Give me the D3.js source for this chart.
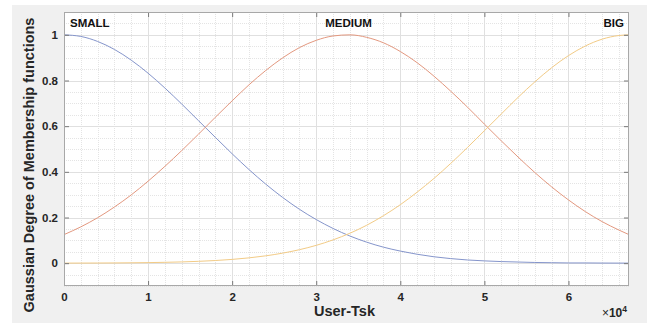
<!DOCTYPE html>
<html><head><meta charset="utf-8">
<script src="https://cdn.jsdelivr.net/npm/d3@7"></script>
<style>html,body{margin:0;padding:0;background:#fff;}svg{display:block;}</style>
</head><body>
<svg id="c" width="647" height="324"></svg>
<script>
// x sample positions (User-Tsk, in units of 1e4)
const xs = [0,0.2,0.4,0.6,0.8,1.0,1.2,1.4,1.6,1.8,2.0,2.2,2.4,2.6,2.8,3.0,3.2,3.4,3.6,3.8,4.0,4.2,4.4,4.6,4.8,5.0,5.2,5.4,5.6,5.8,6.0,6.2,6.4,6.6,6.72];
const small = [1,0.993,0.971,0.936,0.889,0.832,0.767,0.697,0.624,0.551,0.479,0.410,0.346,0.288,0.236,0.191,0.152,0.119,0.092,0.070,0.053,0.039,0.028,0.020,0.014,0.010,0.007,0.005,0.003,0.002,0.001,0.001,0.0005,0.0003,0.0002];
const medium = [0.125,0.159,0.199,0.246,0.299,0.359,0.424,0.493,0.565,0.639,0.711,0.781,0.844,0.899,0.944,0.976,0.995,1.0,0.989,0.965,0.927,0.878,0.819,0.753,0.683,0.609,0.536,0.465,0.397,0.334,0.277,0.226,0.182,0.145,0.125];
const big = [0.0002,0.0004,0.0006,0.001,0.0016,0.0024,0.0037,0.0055,0.008,0.0116,0.0165,0.0232,0.0322,0.0439,0.059,0.078,0.102,0.131,0.166,0.208,0.256,0.311,0.371,0.437,0.507,0.580,0.653,0.726,0.794,0.856,0.909,0.951,0.981,0.997,1.0];
const seriesNames = ["SMALL","MEDIUM","BIG"];
const seriesColors = ["#8595cb","#e3987f","#f2cb86"];
const xTicks = [0,1,2,3,4,5,6];
const yTicks = [0,0.2,0.4,0.6,0.8,1];
const xLabel = "User-Tsk";
const yLabel = "Gaussian Degree of Membership functions";

const svg = d3.select("#c");
const L=64,R=629,T=12,B=286;
svg.append("rect").attr("x",12).attr("y",5).attr("width",635).attr("height",318).attr("fill","#f0f0f0");
svg.append("rect").attr("x",L).attr("y",T).attr("width",R-L).attr("height",B-T).attr("fill","#fff");

const x = d3.scaleLinear().domain([0,6.72]).range([L,R]);
const y = d3.scaleLinear().domain([-0.1,1.1]).range([B,T]);

const g = svg.append("g");
// minor grid
const xMinor = d3.range(0,6.72,0.2).filter(v=>Math.abs(v-Math.round(v))>1e-6);
const yMinor = d3.range(-0.1,1.1,0.05).filter(v=>Math.abs(v*5-Math.round(v*5))>1e-6);
g.selectAll(".xm").data(xMinor).join("line").attr("x1",d=>Math.round(x(d))+0.5).attr("x2",d=>Math.round(x(d))+0.5).attr("y1",T).attr("y2",B)
  .attr("stroke","#e4e4e4").attr("stroke-dasharray","1,1");
g.selectAll(".ym").data(yMinor).join("line").attr("y1",d=>Math.round(y(d))+0.5).attr("y2",d=>Math.round(y(d))+0.5).attr("x1",L).attr("x2",R)
  .attr("stroke","#e4e4e4").attr("stroke-dasharray","1,1");
// major grid
g.selectAll(".xg").data(xTicks).join("line").attr("x1",d=>Math.round(x(d))+0.5).attr("x2",d=>Math.round(x(d))+0.5).attr("y1",T).attr("y2",B)
  .attr("stroke","#e0e0e0");
g.selectAll(".yg").data(yTicks).join("line").attr("y1",d=>Math.round(y(d))+0.5).attr("y2",d=>Math.round(y(d))+0.5).attr("x1",L).attr("x2",R)
  .attr("stroke","#e0e0e0");

// curves
const line = d3.line().x(d=>x(d[0])).y(d=>y(d[1])).curve(d3.curveMonotoneX);
[small,medium,big].forEach((vals,i)=>{
  svg.append("path").datum(xs.map((v,j)=>[v,vals[j]])).attr("d",line)
    .attr("fill","none").attr("stroke",seriesColors[i]).attr("stroke-width",1);
});

// axes
const font = "'Liberation Sans', Arial, sans-serif";
const xAxis = svg.append("g").attr("transform",`translate(0,${B})`).call(d3.axisBottom(x).tickValues(xTicks).tickFormat(d3.format("d")).tickSizeInner(-5).tickSizeOuter(0).tickPadding(7));
const yAxis = svg.append("g").attr("transform",`translate(${L},0)`).call(d3.axisLeft(y).tickValues(yTicks).tickFormat(d=>d===0||d===1?String(d):d3.format(".1f")(d)).tickSizeInner(-5).tickSizeOuter(0).tickPadding(6));
const xTop = svg.append("g").attr("transform",`translate(0,${T})`).call(d3.axisTop(x).tickValues(xTicks).tickFormat("").tickSizeInner(-5).tickSizeOuter(0));
const yRight = svg.append("g").attr("transform",`translate(${R},0)`).call(d3.axisRight(y).tickValues(yTicks).tickFormat("").tickSizeInner(-5).tickSizeOuter(0));
[xAxis,yAxis,xTop,yRight].forEach(a=>{
  a.select(".domain").remove();
  a.selectAll(".tick line").attr("stroke","#7a7a7a");
  a.selectAll("text").attr("font-family",font).attr("font-size",11.5).attr("font-weight","bold").attr("fill","#262626");
});
svg.append("rect").attr("x",L+0.5).attr("y",T+0.5).attr("width",R-L-1).attr("height",B-T-1).attr("fill","none").attr("stroke","#a8a8a8");

// labels
svg.append("text").attr("x",(L+R)/2-2).attr("y",316).attr("text-anchor","middle").attr("font-family",font).attr("font-weight","bold").attr("font-size",14.5).attr("fill","#262626").text(xLabel);
svg.append("text").attr("transform",`translate(34,165) rotate(-90)`).attr("text-anchor","middle").attr("font-family",font).attr("font-weight","bold").attr("font-size",14.5).attr("fill","#262626").text(yLabel);
const ex = svg.append("text").attr("x",627).attr("y",317).attr("text-anchor","end").attr("font-family",font).attr("font-size",12).attr("fill","#262626");
ex.append("tspan").text("×");
ex.append("tspan").attr("font-weight","bold").text("10");
ex.append("tspan").attr("font-weight","bold").attr("font-size",8.5).attr("dy",-5).text("4");

// series name labels
const nameX = [70, (L+R)/2+2, 624];
const anchors = ["start","middle","end"];
seriesNames.forEach((n,i)=>{
  svg.append("text").attr("x",nameX[i]).attr("y",27).attr("text-anchor",anchors[i]).attr("font-family",font).attr("font-weight","bold").attr("font-size",11.5).attr("fill","#111").text(n);
});
</script>
</body></html>
